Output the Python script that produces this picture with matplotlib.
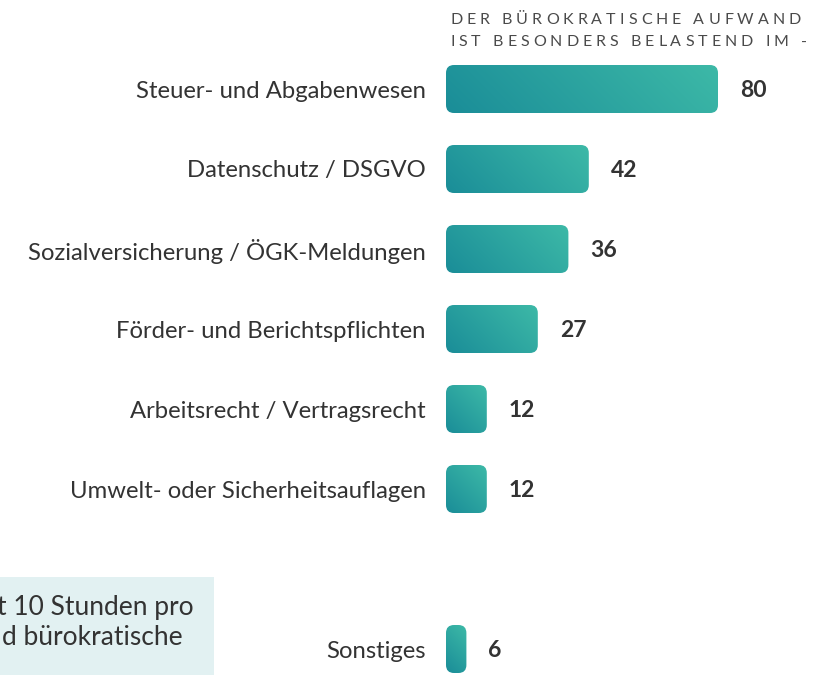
import numpy as np
import matplotlib
matplotlib.use("Agg")
import matplotlib.pyplot as plt
from matplotlib.patches import FancyBboxPatch, Rectangle
from matplotlib.colors import to_rgb

plt.rcParams['font.family'] = ['Lato', 'DejaVu Sans']

categories = ["Steuer- und Abgabenwesen", "Datenschutz / DSGVO",
              "Sozialversicherung / ÖGK-Meldungen", "Förder- und Berichtspflichten",
              "Arbeitsrecht / Vertragsrecht", "Umwelt- oder Sicherheitsauflagen",
              "Sonstiges"]
values = [80, 42, 36, 27, 12, 12, 6]
positions = [0, 1, 2, 3, 4, 5, 7]
header = ["DER BÜROKRATISCHE AUFWAND", "IST BESONDERS BELASTEND IM -"]
note = ["t 10 Stunden pro", "d bürokratische"]

W, H = 813, 675
fig = plt.figure(figsize=(W / 100, H / 100), dpi=100)
fig.patch.set_facecolor("white")

# axes: x=0 at px 446, 3.4 px per unit; 80 px per category row
x0_px, px_per_unit, row_px, first_px = 446, 3.4, 80, 89
ax = fig.add_axes([x0_px / W, 0, 1 - x0_px / W, 1])
ax.set_xlim(0, (W - x0_px) / px_per_unit)
ax.set_ylim((H - first_px) / row_px, -first_px / row_px)
for s in ax.spines.values():
    s.set_visible(False)
ax.set_xticks([])
ax.set_yticks(positions)
ax.set_yticklabels(categories, fontsize=17.2, color="#333333")
ax.tick_params(axis="y", length=0, pad=14.5)
ax.patch.set_alpha(0)

c0 = np.array(to_rgb("#1a8d98"))
c1 = np.array(to_rgb("#3db9a7"))
bar_h = 48 / row_px
r_units = 8 / px_per_unit
aspect = px_per_unit / row_px

for pos, val in zip(positions, values):
    patch = FancyBboxPatch((0, pos - bar_h / 2), val, bar_h,
                           boxstyle=f"round,pad=0,rounding_size={r_units}",
                           mutation_aspect=aspect, linewidth=0, facecolor="none")
    ax.add_patch(patch)
    w_px, h_px = val * px_per_unit, 48
    nx, ny = max(int(w_px), 2), h_px
    X, Y = np.meshgrid(np.linspace(0, w_px, nx), np.linspace(h_px, 0, ny))
    t = (X + Y) / (w_px + h_px)
    img = c0[None, None, :] * (1 - t[..., None]) + c1[None, None, :] * t[..., None]
    im = ax.imshow(img, extent=(0, val, pos + bar_h / 2, pos - bar_h / 2),
                   aspect="auto", interpolation="bilinear", zorder=2)
    im.set_clip_path(patch)
    ax.text(val + 22 / px_per_unit, pos + 7.6 / row_px, str(val), fontsize=16.5,
            fontweight="bold", color="#333333", va="baseline", ha="left")

# letter-spaced header
renderer = fig.canvas.get_renderer()


def text_w(s, **kw):
    t = fig.text(0, 0, s, **kw)
    w = t.get_window_extent(renderer).width
    t.remove()
    return w


hkw = dict(fontsize=11.5, color="#4a4a4a")
spacing = 4.0
for line, y_px in zip(header, [24.5, 46.5]):
    base = text_w("HH", **hkw)
    for i, ch in enumerate(line):
        off = text_w("H" + line[:i] + "H", **hkw) - base + i * spacing
        fig.text((450 + off) / W, 1 - y_px / H, ch, va="baseline", ha="left", **hkw)

# note box at lower left (partly cut off)
fig.patches.append(Rectangle((0, 0), 214 / W, (H - 577) / H, transform=fig.transFigure,
                             facecolor="#e2f1f2", edgecolor="none", zorder=0))
for line, x_px, y_px in zip(note, [194, 183], [615, 645]):
    fig.text(x_px / W, 1 - y_px / H, line, fontsize=19, color="#333333",
             va="baseline", ha="right", zorder=5)

fig.savefig("out.png", dpi=100)
